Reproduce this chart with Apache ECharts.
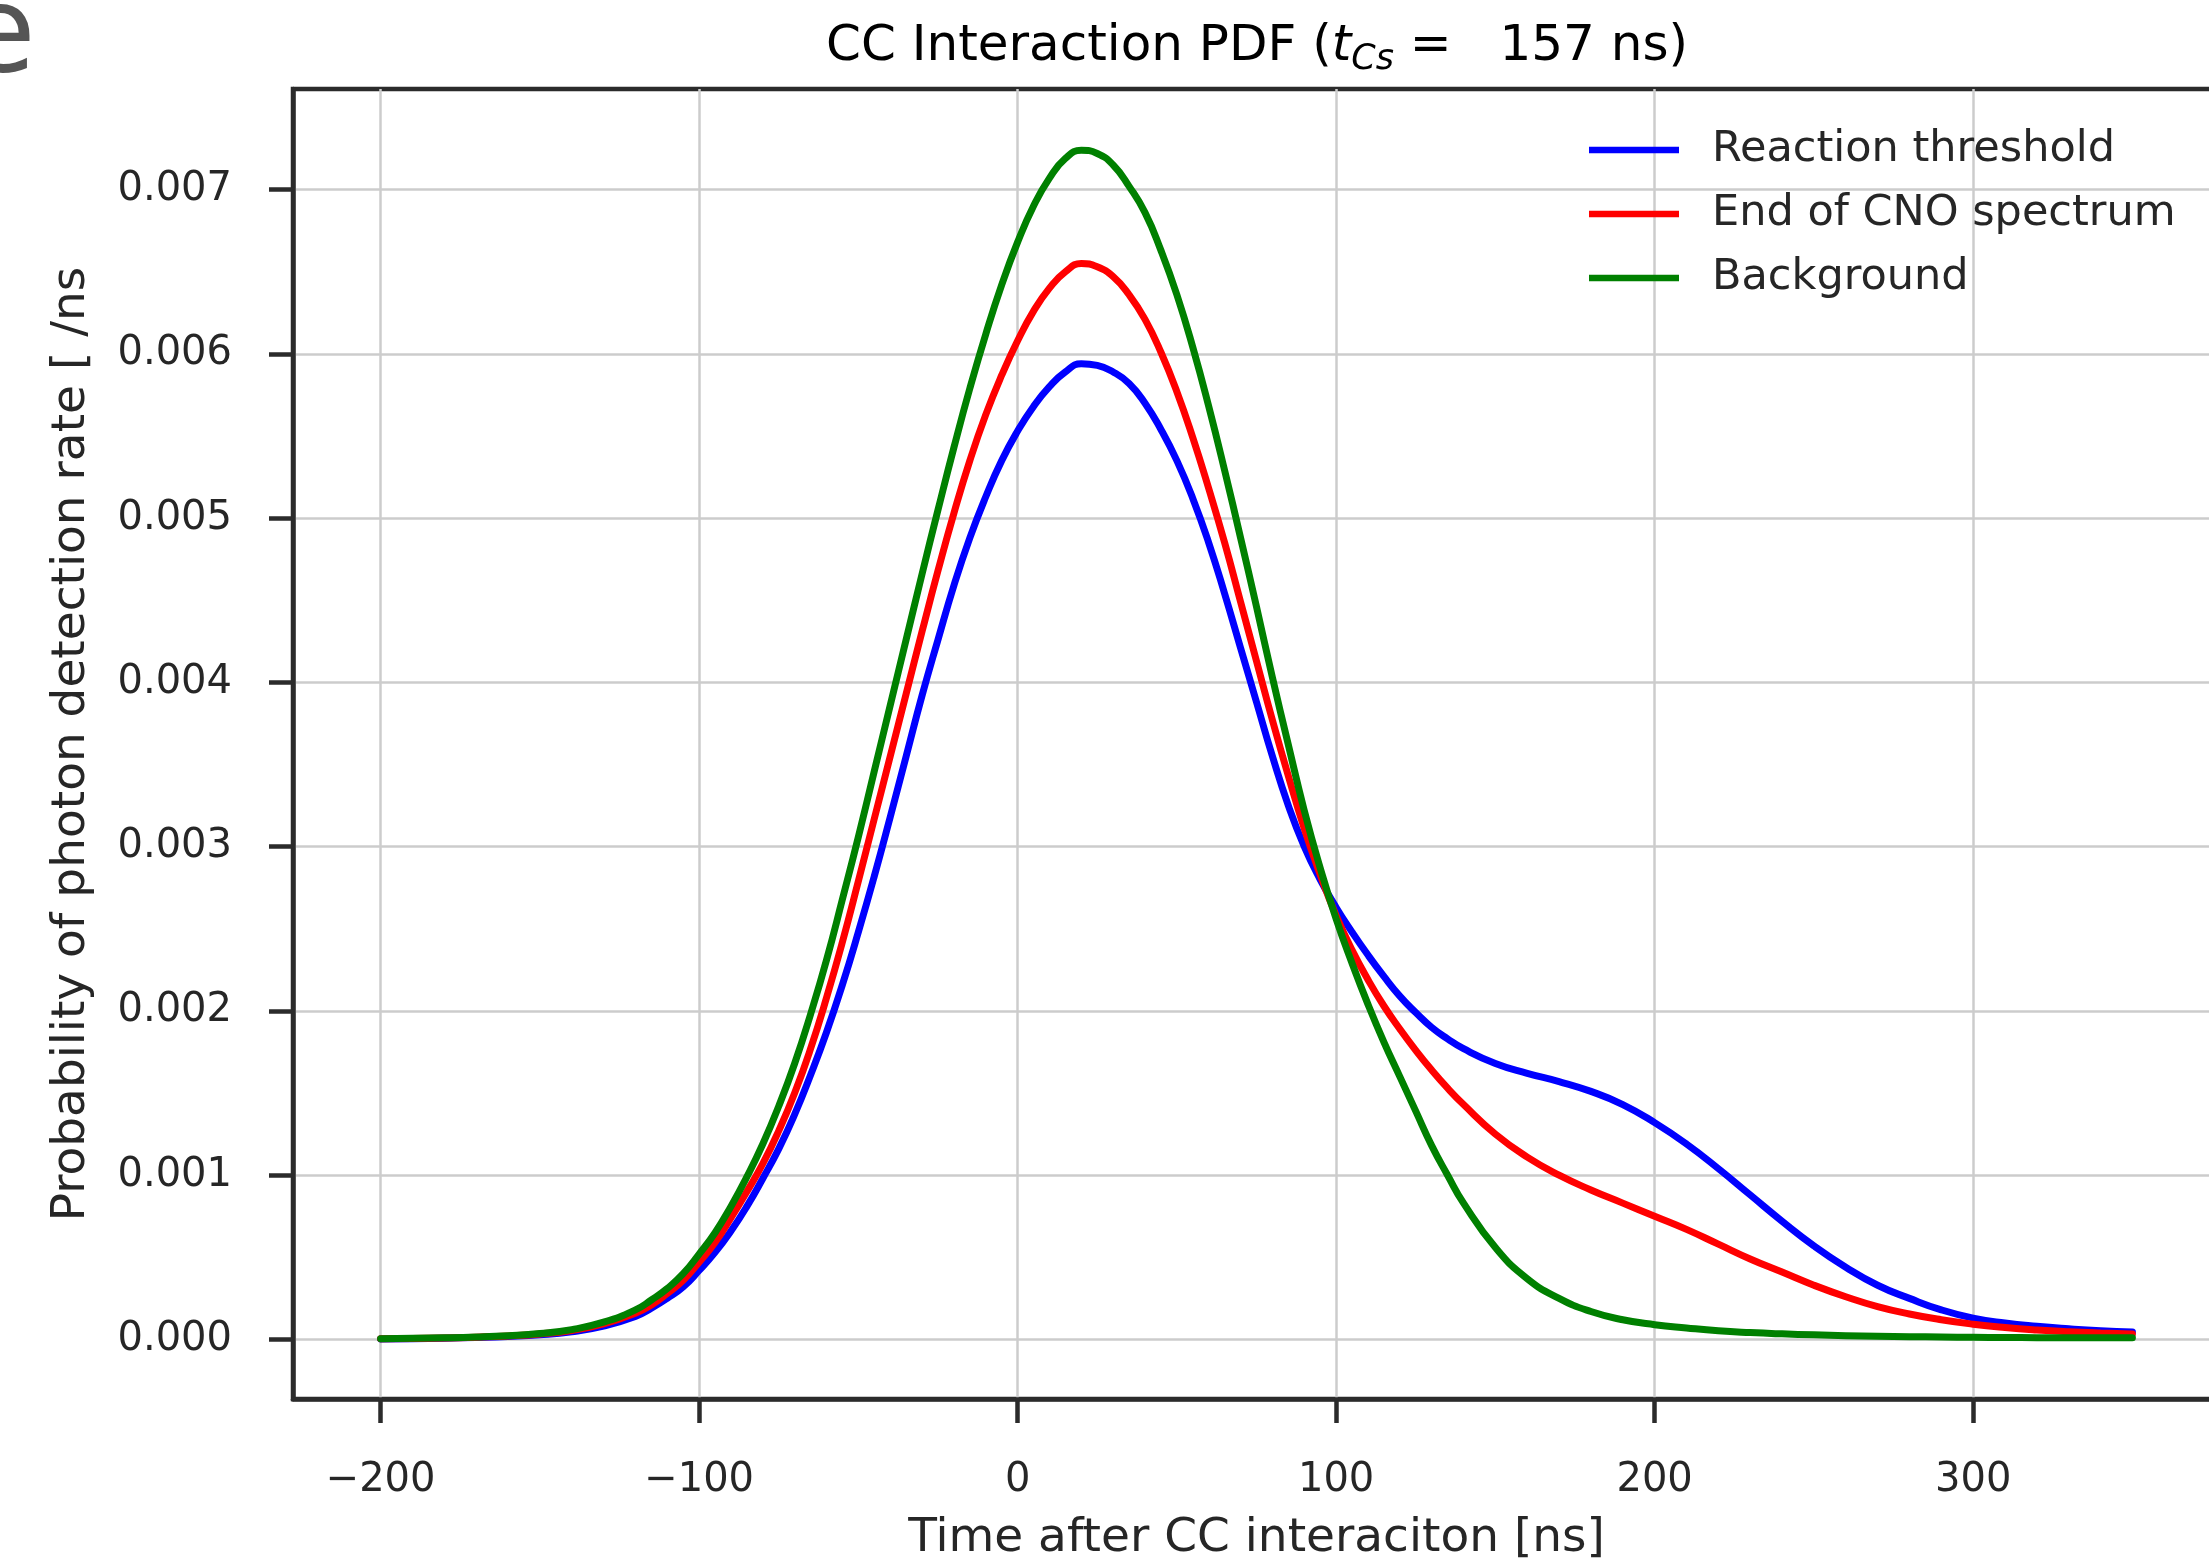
<!DOCTYPE html>
<html>
<head>
<meta charset="utf-8">
<title>CC Interaction PDF</title>
<script src="https://cdn.jsdelivr.net/npm/echarts@6/dist/echarts.min.js"></script>
<style>
  html, body { margin: 0; padding: 0; background: #fff; }
  #chart { width: 2209px; height: 1560px; }
</style>
</head>
<body>
<div id="chart"></div>
<script>
// time after CC interaction [ns]; read every 5 ns where the curves bend hard
const times = [
  -200, -190, -180, -170, -160, -150, -140, -130,
  -120, -115, -110, -105, -100, -95, -90, -85, -80, -75,
  -70, -65, -60, -55, -50, -45, -40, -35, -30, -25,
  -20, -15, -10, -5, 0, 5, 10, 15, 20, 25,
  30, 35, 40, 45, 50, 55, 60, 65, 70, 75,
  80, 85, 90, 95, 100, 105, 110, 115, 120, 125,
  130, 135, 140,
  150, 160, 170, 180, 190, 200, 210, 220, 230, 240,
  250, 260, 270, 280, 290, 300, 310, 320, 330, 340, 350
];

const reactionThreshold = [
  0.000003, 0.000005, 0.000008, 0.000012, 0.000018, 0.000028, 0.000047, 0.000082,
  0.00014, 0.00019, 0.00025, 0.00032, 0.00042, 0.00053, 0.00066, 0.00081, 0.00098, 0.00116,
  0.00137, 0.00161, 0.00187, 0.00216, 0.00248, 0.00282, 0.00318, 0.00355, 0.00392, 0.00426,
  0.00459, 0.00488, 0.00513, 0.00535, 0.00553, 0.00568, 0.00580, 0.00589, 0.00594, 0.00593,
  0.00589, 0.00582, 0.00570, 0.00554, 0.00535, 0.00512, 0.00485, 0.00454, 0.00421, 0.00388,
  0.00355, 0.00325, 0.00300, 0.00280, 0.00263, 0.00248, 0.00234, 0.00221, 0.00209, 0.00199,
  0.00190, 0.00183, 0.00177,
  0.00168, 0.00162, 0.00157, 0.00151, 0.00143, 0.00132, 0.00119, 0.00104, 0.00088, 0.00072,
  0.00057, 0.00044, 0.00033, 0.00025, 0.00018, 0.00013, 0.00010, 0.00008, 0.000065, 0.000053, 0.000045
];

const endOfCno = [
  0.000004, 0.000006, 0.000009, 0.000014, 0.000021, 0.000033, 0.000055, 0.000095,
  0.00016, 0.00021, 0.00028, 0.00036, 0.00047, 0.00059, 0.00074, 0.00090, 0.00107, 0.00127,
  0.00150, 0.00177, 0.00208, 0.00242, 0.00279, 0.00317, 0.00355, 0.00393, 0.00431, 0.00468,
  0.00503, 0.00535, 0.00563, 0.00587, 0.00608, 0.00626, 0.00640, 0.00650, 0.00655, 0.00653,
  0.00647, 0.00636, 0.00621, 0.00601, 0.00577, 0.00549, 0.00518, 0.00485, 0.00449, 0.00413,
  0.00377, 0.00343, 0.00311, 0.00283, 0.00258, 0.00237, 0.00219, 0.00203, 0.00189, 0.00176,
  0.00164, 0.00153, 0.00143,
  0.00125, 0.00111, 0.00100, 0.00091, 0.00083, 0.00075, 0.00067, 0.00058, 0.00049, 0.00041,
  0.00033, 0.00026, 0.00020, 0.000155, 0.00012, 0.000093, 0.000073, 0.000058, 0.000047, 0.000039, 0.000033
];

const background = [
  0.000005, 0.000007, 0.00001, 0.000015, 0.000023, 0.000036, 0.00006, 0.000105,
  0.00018, 0.00024, 0.00031, 0.00040, 0.00052, 0.00065, 0.00081, 0.00099, 0.00119, 0.00142,
  0.00168, 0.00198, 0.00231, 0.00268, 0.00306, 0.00346, 0.00386, 0.00426, 0.00466, 0.00505,
  0.00543, 0.00579, 0.00612, 0.00642, 0.00668, 0.00690, 0.00707, 0.00719, 0.00724, 0.00722,
  0.00715, 0.00702, 0.00686, 0.00663, 0.00636, 0.00604, 0.00568, 0.00529, 0.00488, 0.00446,
  0.00403, 0.00362, 0.00322, 0.00287, 0.00256, 0.00229, 0.00204, 0.00181, 0.00160, 0.00139,
  0.00118, 0.00100, 0.00083,
  0.00056, 0.00037, 0.00025, 0.00017, 0.00012, 0.00009, 0.00007, 0.000053, 0.000042, 0.000034,
  0.000028, 0.000023, 0.00002, 0.000017, 0.000015, 0.000013, 0.000012, 0.000011, 0.00001, 0.00001, 0.00001
];

const xTicks = [-200, -100, 0, 100, 200, 300];
const yTicks = [0, 0.001, 0.002, 0.003, 0.004, 0.005, 0.006, 0.007];

const seriesNames = ["Reaction threshold", "End of CNO spectrum", "Background"];
const seriesColors = ["#0000ff", "#ff0000", "#008000"];
const seriesValues = [reactionThreshold, endOfCno, background];

const FONT = "DejaVu Sans";
const INK = "#262626";
const SPINE = "#2b2b2b";

const chart = echarts.init(document.getElementById("chart"), null, { renderer: "canvas" });

const pairs = (vals) => times.map((t, i) => [t, vals[i]]);

chart.setOption({
  animation: false,
  backgroundColor: "#ffffff",
  textStyle: { fontFamily: FONT },
  grid: {
    left: 293,
    top: 89,
    width: 1927,
    height: 1310,
    show: true,
    borderColor: SPINE,
    borderWidth: 4.5,
    containLabel: false,
    outerBoundsMode: "none",
  },
  graphic: [
    {
      // cut-off letter from the surrounding page
      type: "text",
      x: -38,
      y: 40,
      silent: true,
      style: {
        text: "e",
        font: "120px " + FONT,
        fill: "#555555",
        align: "left",
        verticalAlign: "middle",
      },
    },
    {
      type: "text",
      x: 1257,
      y: 47,
      silent: true,
      style: {
        text: "{n|CC Interaction PDF (}{i|t}{s|Cs}{n| =   157 ns)}",
        align: "center",
        verticalAlign: "middle",
        rich: {
          n: { fontFamily: FONT, fontSize: 50, lineHeight: 60, color: INK, verticalAlign: "middle" },
          i: { fontFamily: FONT, fontSize: 50, lineHeight: 60, color: INK, fontStyle: "italic", verticalAlign: "middle" },
          s: { fontFamily: FONT, fontSize: 35, lineHeight: 35, color: INK, fontStyle: "italic", verticalAlign: "bottom" },
        },
      },
    },
  ],
  legend: {
    orient: "vertical",
    left: 1589,
    top: 125,
    padding: 0,
    itemGap: 14,
    itemWidth: 90,
    itemHeight: 6.5,
    icon: "rect",
    data: seriesNames,
    textStyle: {
      fontFamily: FONT,
      fontSize: 43,
      lineHeight: 50,
      color: INK,
      padding: [0, 0, 0, 28],
    },
  },
  xAxis: {
    type: "value",
    min: -227.5,
    max: 377.5,
    name: "Time after CC interaciton [ns]",
    nameLocation: "middle",
    nameGap: 116,
    nameTextStyle: { fontFamily: FONT, fontSize: 47, color: INK },
    axisLine: { show: true, onZero: false, lineStyle: { color: SPINE, width: 4.5 } },
    axisTick: {
      show: true,
      customValues: xTicks,
      length: 24,
      lineStyle: { color: SPINE, width: 4.5 },
    },
    axisLabel: {
      customValues: xTicks,
      margin: 62,
      fontFamily: FONT,
      fontSize: 40,
      color: INK,
      formatter: (v) => (v < 0 ? "\u2212" + Math.abs(v) : String(v)),
    },
    splitLine: { show: true, lineStyle: { color: "#cccccc", width: 2.5 } },
  },
  yAxis: {
    type: "value",
    min: -0.0003625,
    max: 0.0076125,
    name: "Probability of photon detection rate [ /ns",
    nameLocation: "middle",
    nameRotate: 90,
    nameGap: 198,
    nameTextStyle: { fontFamily: FONT, fontSize: 47, color: INK },
    axisLine: { show: true, onZero: false, lineStyle: { color: SPINE, width: 4.5 } },
    axisTick: {
      show: true,
      customValues: yTicks,
      length: 24,
      lineStyle: { color: SPINE, width: 4.5 },
    },
    axisLabel: {
      customValues: yTicks,
      margin: 61,
      fontFamily: FONT,
      fontSize: 40,
      color: INK,
      formatter: (v) => v.toFixed(3),
    },
    splitLine: { show: true, lineStyle: { color: "#cccccc", width: 2.5 } },
  },
  series: seriesNames.map((name, k) => ({
    name,
    type: "line",
    data: pairs(seriesValues[k]),
    showSymbol: false,
    smooth: 0.5,
    color: seriesColors[k],
    lineStyle: { color: seriesColors[k], width: 7, join: "round", cap: "round" },
    z: 3 + k,
  })),
});
</script>
</body>
</html>
